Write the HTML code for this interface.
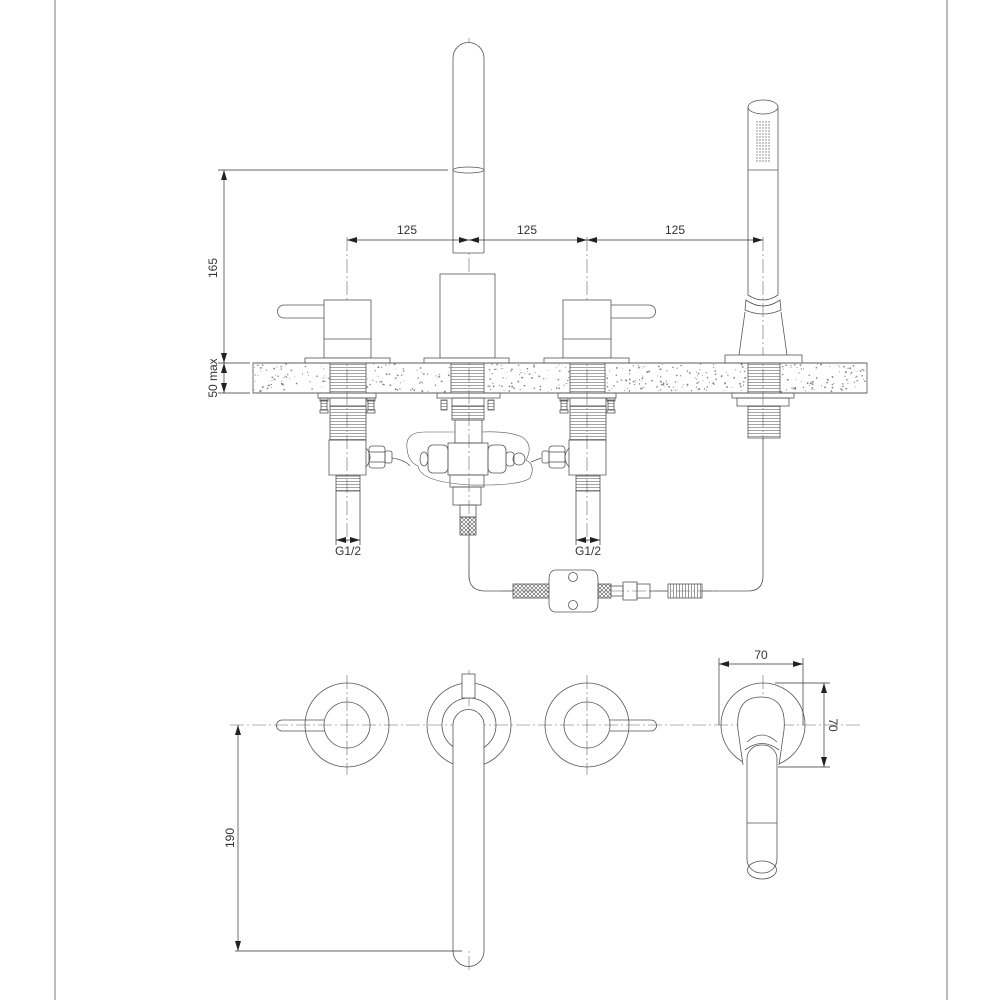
<!DOCTYPE html>
<html><head><meta charset="utf-8"><style>
html,body{margin:0;padding:0;background:#fff;}
svg{display:block;}
text{font-family:"Liberation Sans",sans-serif;font-size:12px;fill:#333;}
</style></head><body>
<svg id="s" width="1000" height="1000" viewBox="0 0 1000 1000" xmlns="http://www.w3.org/2000/svg">
<defs>
<marker id="a" viewBox="0 0 10 6" refX="10" refY="3" markerWidth="10" markerHeight="6" orient="auto-start-reverse" markerUnits="userSpaceOnUse"><path d="M0,0L10,3L0,6z" fill="#222"/></marker>
<pattern id="x" width="4" height="4" patternUnits="userSpaceOnUse"><path d="M0,0L4,4M4,0L0,4" stroke="#555" stroke-width="0.6"/></pattern>
<pattern id="th" width="4" height="3" patternUnits="userSpaceOnUse"><path d="M0,1.5H4" stroke="#666" stroke-width="0.6"/></pattern>
<pattern id="sp" width="3" height="8" patternUnits="userSpaceOnUse"><path d="M1.5,0V8" stroke="#555" stroke-width="0.6"/></pattern>
</defs>
<g fill="none" stroke="#555" stroke-width="0.8">
<line x1="55" y1="0" x2="55" y2="1000"/>
<line x1="947" y1="0" x2="947" y2="1000"/>

<rect x="253" y="363" width="614" height="30" fill="#fff"/>
<g id="dots" stroke="none" fill="#888"></g>

<g stroke-dasharray="14,3,2,3" stroke="#666" stroke-width="0.6">
<line x1="347" y1="237" x2="347" y2="545"/>
<line x1="469" y1="38" x2="469" y2="580"/>
<line x1="587" y1="237" x2="587" y2="545"/>
<line x1="763" y1="237" x2="763" y2="440"/>
<line x1="500" y1="591" x2="720" y2="591"/>
<line x1="230" y1="725" x2="860" y2="725"/>
<line x1="347" y1="675" x2="347" y2="775"/>
<line x1="469" y1="670" x2="469" y2="970"/>
<line x1="587" y1="675" x2="587" y2="775"/>
<line x1="763" y1="675" x2="763" y2="720"/>
</g>

<path d="M453,253 V58 A15.5,15.5 0 0 1 484,58 V253" fill="#fff"/>
<ellipse cx="468.5" cy="170" rx="15.5" ry="3"/>
<line x1="453" y1="253" x2="484" y2="253"/>
<rect x="440" y="274" width="55" height="84" fill="#fff"/>
<rect x="424" y="358" width="85" height="5" fill="#fff"/>

<rect x="324" y="300" width="47" height="58" fill="#fff"/>
<line x1="324" y1="339" x2="371" y2="339"/>
<path d="M324,305 H284 A6.5,6.5 0 0 0 284,318 H324"/>
<rect x="305" y="358" width="85" height="5" fill="#fff"/>
<rect x="563" y="300" width="48" height="58" fill="#fff"/>
<line x1="563" y1="339" x2="611" y2="339"/>
<path d="M611,305 H649 A6.5,6.5 0 0 1 649,318 H611"/>
<rect x="544" y="358" width="85" height="5" fill="#fff"/>

<path d="M748,107 V295 Q763,305 778,295 V107"/>
<ellipse cx="763" cy="107" rx="15" ry="7" fill="#fff"/>
<line x1="748" y1="170" x2="778" y2="170"/>
<g id="holes" stroke="none" fill="#777"></g>
<path d="M746,300 Q763,312 780,300 L781,310 Q763,318 745,310 Z"/>
<path d="M745,312 L739,355 M781,312 L787,355"/>
<rect x="725" y="355" width="77" height="8" fill="#fff"/>

<rect x="330" y="363" width="36" height="30" fill="url(#th)"/>
<rect x="451" y="363" width="33" height="30" fill="url(#th)"/>
<rect x="570" y="363" width="35" height="30" fill="url(#th)"/>
<rect x="748" y="363" width="32" height="30" fill="url(#th)"/>
<line x1="253" y1="363" x2="867" y2="363"/>
<line x1="253" y1="393" x2="867" y2="393"/>

<g>
<rect x="318" y="393" width="58" height="5"/>
<rect x="321" y="400" width="6" height="10" fill="url(#th)"/><rect x="320" y="398" width="8" height="3"/><rect x="320" y="410" width="8" height="3"/>
<rect x="368" y="400" width="6" height="10" fill="url(#th)"/><rect x="367" y="398" width="8" height="3"/><rect x="367" y="410" width="8" height="3"/>
<rect x="330" y="398" width="36" height="8"/>
<rect x="330" y="406" width="36" height="34" fill="url(#th)"/>
<path d="M329,440 H366 V475 H329 Z"/>
<rect x="336" y="476" width="24" height="15" fill="url(#th)"/>
</g>
<path d="M366,448 Q374,457 366,467"/>
<rect x="369" y="446" width="16" height="22" rx="3"/>
<line x1="369" y1="452" x2="385" y2="452"/><line x1="369" y1="462" x2="385" y2="462"/>
<rect x="385" y="451" width="7" height="12" rx="2"/>
<g transform="translate(240,0)">
<rect x="318" y="393" width="58" height="5"/>
<rect x="321" y="400" width="6" height="10" fill="url(#th)"/><rect x="320" y="398" width="8" height="3"/><rect x="320" y="410" width="8" height="3"/>
<rect x="368" y="400" width="6" height="10" fill="url(#th)"/><rect x="367" y="398" width="8" height="3"/><rect x="367" y="410" width="8" height="3"/>
<rect x="330" y="398" width="36" height="8"/>
<rect x="330" y="406" width="36" height="34" fill="url(#th)"/>
<path d="M329,440 H366 V475 H329 Z"/>
<rect x="336" y="476" width="24" height="15" fill="url(#th)"/>
</g>
<path d="M569,448 Q561,457 569,467"/>
<rect x="549" y="446" width="16" height="22" rx="3"/>
<line x1="549" y1="452" x2="565" y2="452"/><line x1="549" y1="462" x2="565" y2="462"/>
<rect x="542" y="451" width="7" height="12" rx="2"/>

<rect x="437" y="393" width="63" height="5"/>
<rect x="441" y="400" width="6" height="10" fill="url(#th)"/><rect x="488" y="400" width="6" height="10" fill="url(#th)"/>
<rect x="452" y="398" width="32" height="8"/>
<rect x="452" y="406" width="32" height="14" fill="url(#th)"/>
<rect x="455" y="420" width="27" height="23"/>
<path d="M455,432 H425 Q405,432 407,448 Q408,462 418,466 Q420,482 470,485 Q520,486 530,478 Q536,465 526,460 Q534,445 522,437 Q510,431 482,432" stroke-width="0.6"/>
<rect x="428" y="445" width="20" height="28" rx="5"/>
<rect x="448" y="443" width="40" height="32"/>
<rect x="488" y="445" width="18" height="28" rx="5"/>
<rect x="506" y="452" width="8" height="14" rx="3"/>
<circle cx="519" cy="459" r="6"/>
<ellipse cx="424" cy="459" rx="4" ry="7"/>
<rect x="450" y="475" width="34" height="12"/>
<rect x="453" y="487" width="28" height="18"/>
<rect x="460" y="505" width="16" height="12"/>
<rect x="460" y="517" width="16" height="18" fill="url(#x)"/>
<path d="M392,458 Q405,460 410,466 M531,462 L541,458"/>

<rect x="732" y="393" width="62" height="5"/>
<rect x="737" y="398" width="52" height="8"/>
<rect x="748" y="406" width="32" height="32" fill="url(#th)"/>

<path d="M469,535 V575 Q469,591 485,591 H513"/>
<rect x="513" y="584" width="37" height="14" fill="url(#x)"/>
<path d="M556,570 H590 Q598,570 598,580 V603 Q598,612 590,612 H556 Q549,612 549,603 V580 Q549,570 556,570 Z" fill="#fff"/>
<circle cx="573" cy="577" r="4.5"/><circle cx="573" cy="605" r="4.5"/>
<rect x="598" y="584" width="13" height="14" fill="url(#x)"/>
<rect x="611" y="586" width="12" height="10"/>
<rect x="623" y="582" width="14" height="18"/>
<rect x="637" y="584" width="13" height="14"/>
<line x1="650" y1="591" x2="668" y2="591"/>
<rect x="668" y="584" width="34" height="14" fill="url(#sp)"/>
<path d="M702,591 H748 Q763,591 763,576 V438"/>

<circle cx="347" cy="725" r="42"/><circle cx="347" cy="725" r="23"/>
<path d="M324,720 H282 A5.5,5.5 0 0 0 282,731 H325"/>
<circle cx="587" cy="725" r="42"/><circle cx="587" cy="725" r="23"/>
<path d="M610,720 H651 A5.5,5.5 0 0 1 651,731 H610"/>
<circle cx="469" cy="725" r="42"/><circle cx="469" cy="725" r="27"/>
<path d="M453,951 V725 A15.5,15.5 0 0 1 484,725 V951" fill="#fff"/>
<path d="M453,951 A15.5,15.5 0 0 0 484,951"/>
<rect x="462" y="674" width="13" height="24" fill="#fff"/>
<circle cx="763" cy="725" r="42"/>
<path d="M743,765 L738,730 Q735,697 761,697 Q787,697 784,730 L779,765" fill="#fff"/>
<path d="M747,742 Q762,728 777,742 M745,750 Q762,737 779,750"/>
<rect x="747" y="745" width="30" height="128" rx="14" fill="#fff"/>
<line x1="747" y1="823" x2="777" y2="823"/>
<ellipse cx="762" cy="870" rx="14.5" ry="9"/>
</g>

<g stroke="#333" stroke-width="0.7" fill="none">
<line x1="347" y1="240" x2="469" y2="240" marker-start="url(#a)" marker-end="url(#a)"/>
<line x1="469" y1="240" x2="587" y2="240" marker-start="url(#a)" marker-end="url(#a)"/>
<line x1="587" y1="240" x2="763" y2="240" marker-start="url(#a)" marker-end="url(#a)"/>
<line x1="218" y1="170" x2="448" y2="170"/>
<line x1="218" y1="363" x2="250" y2="363"/>
<line x1="218" y1="393" x2="250" y2="393"/>
<line x1="224" y1="170" x2="224" y2="363" marker-start="url(#a)" marker-end="url(#a)"/>
<line x1="224" y1="363" x2="224" y2="393" marker-start="url(#a)" marker-end="url(#a)"/>
<line x1="336" y1="491" x2="336" y2="545"/><line x1="360" y1="491" x2="360" y2="545"/>
<line x1="336" y1="540" x2="360" y2="540" marker-start="url(#a)" marker-end="url(#a)"/>
<line x1="576" y1="491" x2="576" y2="545"/><line x1="600" y1="491" x2="600" y2="545"/>
<line x1="576" y1="540" x2="600" y2="540" marker-start="url(#a)" marker-end="url(#a)"/>
<line x1="238" y1="725" x2="238" y2="951" marker-start="url(#a)" marker-end="url(#a)"/>
<line x1="235" y1="951" x2="462" y2="951"/>
<line x1="719" y1="664" x2="803" y2="664" marker-start="url(#a)" marker-end="url(#a)"/>
<line x1="719" y1="658" x2="719" y2="725"/><line x1="803" y1="658" x2="803" y2="725"/>
<line x1="824" y1="683" x2="824" y2="767" marker-start="url(#a)" marker-end="url(#a)"/>
<line x1="775" y1="683" x2="830" y2="683"/><line x1="778" y1="767" x2="830" y2="767"/>
</g>
<text x="407" y="234" text-anchor="middle">125</text>
<text x="527" y="234" text-anchor="middle">125</text>
<text x="675" y="234" text-anchor="middle">125</text>
<text transform="translate(217,268) rotate(-90)" text-anchor="middle">165</text>
<text transform="translate(217,378) rotate(-90)" text-anchor="middle">50 max</text>
<text x="348" y="555" text-anchor="middle">G1/2</text>
<text x="588" y="555" text-anchor="middle">G1/2</text>
<text transform="translate(234,838) rotate(-90)" text-anchor="middle">190</text>
<text x="761" y="659" text-anchor="middle">70</text>
<text transform="translate(829,725) rotate(90)" text-anchor="middle">70</text>
</svg>
<script>
(function(){var g=document.getElementById('dots'),ns='http://www.w3.org/2000/svg',s=7;
function r(){s=(s*16807)%2147483647;return s/2147483647;}
var skip=[[330,366],[451,484],[570,605],[748,780]];
for(var i=0;i<500;i++){var x=254+r()*612,y=364+r()*28,ok=true;
for(var k=0;k<skip.length;k++)if(x>skip[k][0]&&x<skip[k][1])ok=false;if(!ok)continue;
var c=document.createElementNS(ns,'circle');c.setAttribute('cx',x.toFixed(1));c.setAttribute('cy',y.toFixed(1));c.setAttribute('r',(0.4+r()*0.6).toFixed(2));g.appendChild(c);}
var h=document.getElementById('holes');
for(var yy=122;yy<162;yy+=3)for(var xx=757;xx<770;xx+=3){var c2=document.createElementNS(ns,'circle');c2.setAttribute('cx',xx);c2.setAttribute('cy',yy);c2.setAttribute('r',0.7);h.appendChild(c2);}
})();
</script>
</body></html>
